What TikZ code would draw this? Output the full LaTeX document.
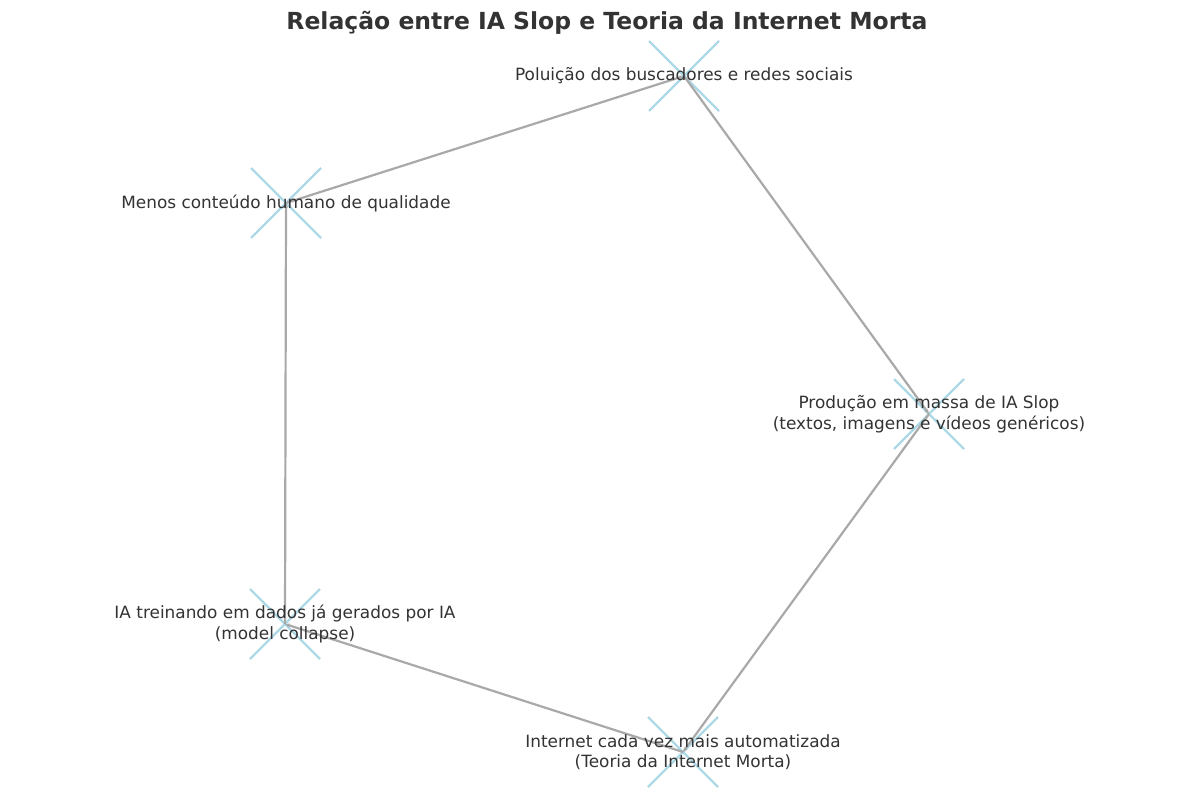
\documentclass[tikz,border=0pt]{standalone}
\usepackage{fontspec}
\setmainfont{DejaVu Sans}
\usetikzlibrary{arrows.meta}
\definecolor{txt}{HTML}{333333}
\definecolor{edgegray}{HTML}{A9A9A9}
\definecolor{mark}{HTML}{ADD8E6}
\begin{document}
\begin{tikzpicture}[x=1pt,y=-1pt,
  lbl/.style={font=\fontsize{16.9}{20.5}\selectfont, text=txt, align=center, inner sep=0pt},
  edge/.style={draw=edgegray, line width=2.2pt, -{Stealth[length=5pt,width=4pt]}},
  xmark/.style={draw=mark, line width=2.2pt}]
\useasboundingbox (0,0) rectangle (1200,800);
\fill[white] (0,0) rectangle (1200,800);
\node[font=\bfseries\fontsize{23.5}{28}\selectfont, text=txt] (title) at (607,23) {Relação entre IA Slop e Teoria da Internet Morta};
\coordinate (p) at (684,76);
\coordinate (m) at (286,203);
\coordinate (s) at (929,414);
\coordinate (t) at (285,624);
\coordinate (i) at (683,752);
\foreach \c in {p,m,s,t,i}{
  \draw[xmark] ([shift={(-35,-35)}]\c) -- ([shift={(35,35)}]\c);
  \draw[xmark] ([shift={(-35,35)}]\c) -- ([shift={(35,-35)}]\c);
}
\draw[edge] (s) -- (i);
\draw[edge] (i) -- (t);
\draw[edge] (t) -- (m);
\draw[edge] (m) -- (p);
\draw[edge] (p) -- (s);
\node[lbl] (lp) at (p) {Poluição dos buscadores e redes sociais};
\node[lbl] (lm) at (m) {Menos conteúdo humano de qualidade};
\node[lbl] (ls) at (s) {Produção em massa de IA Slop\\(textos, imagens e vídeos genéricos)};
\node[lbl] (lt) at (t) {IA treinando em dados já gerados por IA\\(model collapse)};
\node[lbl] (li) at (i) {Internet cada vez mais automatizada\\(Teoria da Internet Morta)};
\end{tikzpicture}
\end{document}
